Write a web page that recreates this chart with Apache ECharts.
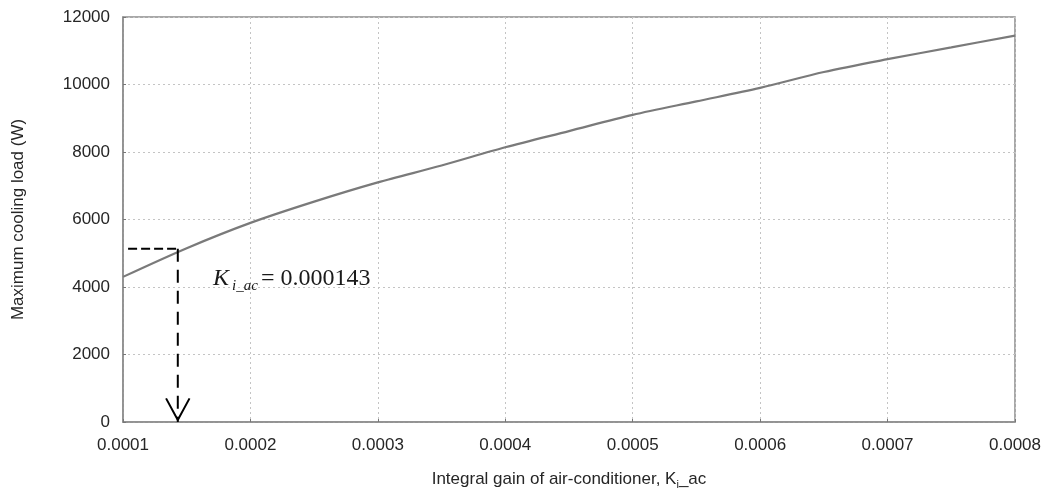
<!DOCTYPE html>
<html>
<head>
<meta charset="utf-8">
<script src="https://cdn.jsdelivr.net/npm/echarts@6/dist/echarts.min.js"></script>
<style>
  html, body { margin: 0; padding: 0; background: #fff; }
  #chart { width: 1054px; height: 495px; }
</style>
</head>
<body>
<div id="chart"></div>
<script>
// Integral gain of the air-conditioner controller (x) vs. maximum cooling load in W (y)
const integralGain = [0.0001, 0.00015, 0.0002, 0.00025, 0.0003, 0.00035, 0.0004, 0.00045,
                      0.0005, 0.00055, 0.0006, 0.00065, 0.0007, 0.00075, 0.0008];
const maxCoolingLoad = [4300, 5150, 5900, 6530, 7100, 7600, 8140, 8620,
                        9100, 9500, 9900, 10370, 10750, 11100, 11450];

// Selected gain and the load it gives
const selectedGain = 0.000143;
const selectedLoad = 5130;
const guideStartGain = 0.000104;

// Axis ranges
const xRange = { min: 0.0001, max: 0.0008, step: 0.0001 };
const yRange = { min: 0, max: 12000, step: 2000 };

const chart = echarts.init(document.getElementById('chart'), null, { renderer: 'canvas' });

const sans = 'Liberation Sans, Arial, sans-serif';
const serif = '"Liberation Serif", "Times New Roman", serif';
const labelFont = { fontFamily: sans, fontSize: 17, color: '#262626' };

chart.setOption({
  animation: false,
  backgroundColor: '#ffffff',
  grid: {
    left: 123, right: 39, top: 17, bottom: 72,
    show: true, borderColor: '#8c8c8c', borderWidth: 1.5, backgroundColor: 'transparent'
  },
  xAxis: {
    type: 'value',
    min: xRange.min, max: xRange.max, interval: xRange.step,
    axisLine: { show: true, lineStyle: { color: '#8c8c8c', width: 1.5 } },
    axisTick: { show: true, inside: true, length: 3, lineStyle: { color: '#777' } },
    axisLabel: Object.assign({ margin: 15, formatter: v => v.toFixed(4) }, labelFont),
    splitLine: { show: true, lineStyle: { color: '#c4c4c4', type: [2, 3], width: 1 } },
    name: 'Integral gain of air-conditioner, K{sub|i}_ac',
    nameLocation: 'middle',
    nameGap: 47,
    nameTextStyle: {
      fontFamily: sans, fontSize: 17, color: '#262626',
      rich: {
        sub: { fontFamily: sans, fontSize: 11, color: '#262626', padding: [10, 0, 0, 0] }
      }
    }
  },
  yAxis: {
    type: 'value',
    min: yRange.min, max: yRange.max, interval: yRange.step,
    axisLine: { show: true, lineStyle: { color: '#8c8c8c', width: 1.5 } },
    axisTick: { show: true, inside: true, length: 3, lineStyle: { color: '#777' } },
    axisLabel: Object.assign({ margin: 13, formatter: v => String(v) }, labelFont),
    splitLine: { show: true, lineStyle: { color: '#c4c4c4', type: [2, 3], width: 1 } },
    name: 'Maximum cooling load (W)',
    nameLocation: 'middle',
    nameGap: 96,
    nameTextStyle: { fontFamily: sans, fontSize: 17, color: '#262626' }
  },
  series: [
    {
      name: 'load',
      type: 'line',
      data: integralGain.map((g, i) => [g, maxCoolingLoad[i]]),
      showSymbol: false,
      smooth: 0.3,
      lineStyle: { color: '#7a7a7a', width: 2.2 },
      z: 3
    },
    {
      // dashed guide across to the curve
      name: 'guideAcross',
      type: 'line',
      data: [[guideStartGain, selectedLoad], [selectedGain, selectedLoad]],
      showSymbol: false,
      lineStyle: { color: '#000', width: 2, type: [9, 4] },
      z: 4
    },
    {
      // dashed guide down to the axis
      name: 'guideDown',
      type: 'line',
      data: [[selectedGain, selectedLoad], [selectedGain, yRange.min]],
      showSymbol: false,
      lineStyle: { color: '#000', width: 2, type: [13, 8] },
      z: 4
    },
    {
      // open arrow head at the foot of the guide
      name: 'arrowhead',
      type: 'line',
      data: [[selectedGain - 0.0000092, 700], [selectedGain, yRange.min + 60], [selectedGain + 0.0000092, 700]],
      showSymbol: false,
      lineStyle: { color: '#000', width: 2 },
      z: 4
    }
  ],
  graphic: [
    {
      type: 'text', left: 213, top: 267, z: 10,
      style: { text: 'K', font: 'italic 24px ' + serif, fill: '#1a1a1a' }
    },
    {
      type: 'text', left: 232, top: 279, z: 10,
      style: { text: 'i_ac', font: 'italic 15px ' + serif, fill: '#1a1a1a' }
    },
    {
      type: 'text', left: 261, top: 267, z: 10,
      style: { text: '= ' + selectedGain.toFixed(6), font: '24px ' + serif, fill: '#1a1a1a' }
    }
  ]
});
</script>
</body>
</html>
